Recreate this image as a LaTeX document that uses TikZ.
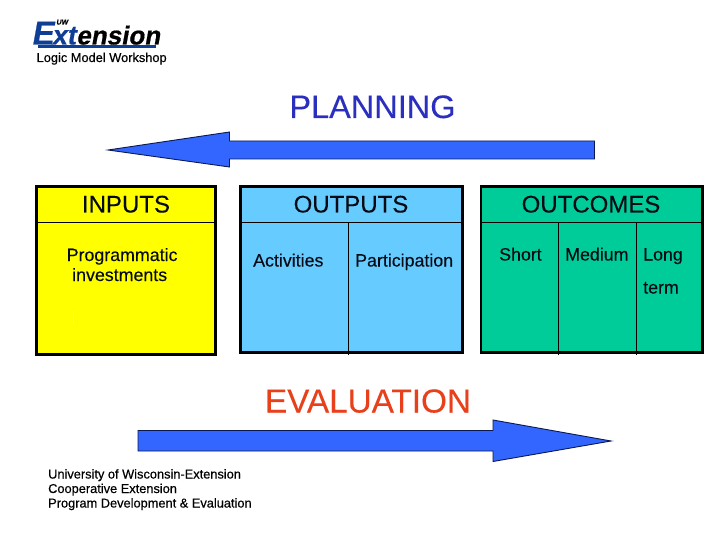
\documentclass[tikz,border=0pt]{standalone}
\usepackage{fontspec}
\setmainfont{Liberation Sans}
\newfontfamily\fakefont[FakeBold=0.35]{Liberation Sans}
\newfontfamily\softfont[FakeBold=0.15]{Liberation Sans}
\newfontfamily\logofont[FakeBold=0.6,FakeSlant=0.18]{Liberation Sans Bold}
\begin{document}
\begin{tikzpicture}[x=1pt,y=-1pt,
  panel/.style={draw=black,line width=2.8pt,inner sep=0pt,outer sep=0pt,anchor=north west},
  rule/.style={draw=black,line width=0.8pt},
  bigarrow/.style={draw=arrowline,line width=0.9pt,fill=arrowblue,line join=miter},
  head/.style={font=\softfont\fontsize{24}{26}\selectfont,text=inkblack,anchor=base},
  item/.style={font=\softfont\fontsize{17.8}{20}\selectfont,text=inkblack,anchor=base west,inner sep=0pt},
  small/.style={font=\fakefont\fontsize{12.8}{15}\selectfont,anchor=base west,inner sep=0pt}]
\definecolor{arrowblue}{HTML}{3366FF}
\definecolor{arrowline}{HTML}{0A1A50}
\definecolor{logoblue}{HTML}{0F3F94}
\definecolor{planblue}{HTML}{2A2FC0}
\definecolor{evalred}{HTML}{E8401A}
\definecolor{inkblack}{HTML}{050A14}
\definecolor{panelyellow}{HTML}{FFFF00}
\definecolor{panelblue}{HTML}{66CCFF}
\definecolor{panelgreen}{HTML}{00CC99}
\useasboundingbox (0,0) rectangle (720,540);
\fill[white] (0,0) rectangle (720,540);
% logo
\node[anchor=base west,inner sep=0pt,font=\logofont,text=logoblue] (logo) at (31,44.5)
  {{\fontsize{33}{33}\selectfont E}\kern-1.5pt{\fontsize{27}{27}\selectfont xt}\kern0.5pt{\fontsize{26}{27}\selectfont\color{black}ension}};
\node[anchor=base west,inner sep=0pt,font=\logofont\fontsize{7}{7}\selectfont,text=black] (logoU) at (56,24.5) {UW};
\fill[logoblue] (38,45.5) rectangle (156,48);
\node[small] (workshop) at (36.5,62) {Logic Model Workshop};
% planning
\node[anchor=base,inner sep=0pt,font=\softfont\fontsize{32.5}{34}\selectfont,text=planblue] (plan) at (372.5,118) {PLANNING};
\draw[bigarrow] (108,150) -- (229.5,132) -- (229.5,141) -- (594.5,141) -- (594.5,159) -- (229.5,159) -- (229.5,167) -- cycle;
% panels
\node[panel,fill=panelyellow,minimum width=179pt,minimum height=168pt] (inputs) at (36.5,186.5) {};
\node[panel,fill=panelblue,minimum width=222pt,minimum height=166pt] (outputs) at (240.8,186.5) {};
\node[panel,fill=panelgreen,minimum width=221.5pt,minimum height=166pt] (outcomes) at (481,186.5) {};
% header rules
\coordinate (i1) at (inputs.west |- 0,222); \coordinate (i2) at (inputs.east |- 0,222);
\coordinate (o1) at (outputs.west |- 0,222); \coordinate (o2) at (outputs.east |- 0,222);
\coordinate (c1) at (outcomes.west |- 0,222); \coordinate (c2) at (outcomes.east |- 0,222);
\draw[rule] (i1) -- (i2);
\draw[rule] (o1) -- (o2);
\draw[rule] (c1) -- (c2);
% column rules
\coordinate (a1) at (348.5,222); \coordinate (a2) at (348.5,355);
\coordinate (b1) at (558.3,222); \coordinate (b2) at (558.3,355);
\coordinate (d1) at (636.3,222); \coordinate (d2) at (636.3,355);
\draw[rule] (a1) -- (a2);
\draw[rule] (b1) -- (b2);
\draw[rule] (d1) -- (d2);
% headings
\node[head] (t1) at (126,212.5) {INPUTS};
\node[head] (t2) at (351,212.5) {OUTPUTS};
\node[head] (t3) at (591,212.5) {OUTCOMES};
% items
\node[item] (p1) at (66.5,261) {Programmatic};
\node[item] (p2) at (72,281) {investments};
\node[inner sep=0pt] (mark) at (73.5,317) {\tikz[x=1pt,y=1pt]\fill[yellow!45!white] (0,0) rectangle (1.5,13);};
\node[item] (p3) at (253,266.5) {Activities};
\node[item] (p4) at (355,266.5) {Participation};
\node[item] (p5) at (499,260.5) {Short};
\node[item] (p6) at (565,260.5) {Medium};
\node[item] (p7) at (643,260.5) {Long};
\node[item] (p8) at (643,293.5) {term};
% evaluation
\node[anchor=base,inner sep=0pt,font=\softfont\fontsize{33.3}{35}\selectfont,text=evalred] (evalt) at (368,412.5) {EVALUATION};
\draw[bigarrow] (138,430.5) -- (493,430.5) -- (493,420) -- (611,441) -- (493,461.5) -- (493,451) -- (138,451) -- cycle;
% footer
\node[small] (f1) at (48,478.5) {University of Wisconsin-Extension};
\node[small] (f2) at (48,493) {Cooperative Extension};
\node[small] (f3) at (48,507.5) {Program Development \& Evaluation};
\end{tikzpicture}
\end{document}
